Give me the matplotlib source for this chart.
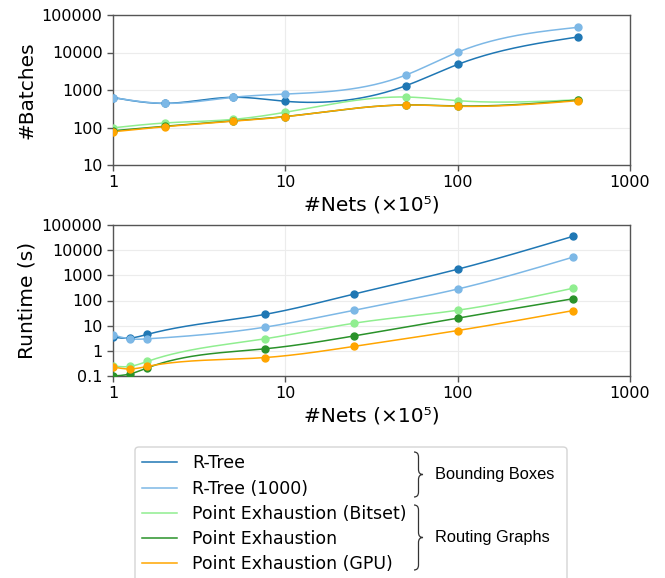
import numpy as np
import matplotlib
matplotlib.use("Agg")
import matplotlib.pyplot as plt
from matplotlib.lines import Line2D
from matplotlib.patches import FancyBboxPatch, PathPatch
from matplotlib.path import Path

# ---- data ----
labels = ["R-Tree", "R-Tree (1000)", "Point Exhaustion (Bitset)",
          "Point Exhaustion", "Point Exhaustion (GPU)"]
colors = ["#1f77b4", "#7db8e6", "#90ee90", "#2a922a", "#ffa500"]

# #Batches
nets_batches = [1, 2, 5, 10, 50, 100, 500]
batches_rtree = [630, 440, 640, 500, 1300, 4800, 26000]
batches_rtree1000 = [630, 440, 640, 780, 2500, 10200, 47000]
batches_bitset = [98, 132, 165, 255, 650, 520, 550]
batches_pe = [82, 108, 150, 196, 400, 375, 540]
batches_gpu = [77, 105, 147, 194, 398, 368, 520]

# Runtime (s)
nets_runtime = [1, 1.25, 1.58, 7.6, 25, 100, 470]
runtime_rtree = [3.5, 3.2, 4.5, 28, 180, 1750, 36000]
runtime_rtree1000 = [4.3, 3.0, 3.0, 8.7, 41, 285, 5350]
runtime_bitset = [0.25, 0.24, 0.38, 3.0, 12.5, 41, 310]
runtime_pe = [0.1, 0.12, 0.21, 1.2, 3.9, 20, 118]
runtime_gpu = [0.23, 0.19, 0.24, 0.54, 1.5, 6.4, 40]

x_ticks = [1, 10, 100, 1000]
x_ticklabels = ["1", "10", "100", "1000"]
batches_yticks = [10, 100, 1000, 10000, 100000]
batches_yticklabels = ["10", "100", "1000", "10000", "100000"]
runtime_yticks = [0.1, 1, 10, 100, 1000, 10000, 100000]
runtime_yticklabels = ["0.1", "1", "10", "100", "1000", "10000", "100000"]

groups = ["Bounding Boxes", "Routing Graphs"]


def smooth(x, y, n=300):
    # natural cubic spline through the points, in log-log space
    lx = np.log10(np.asarray(x, float))
    ly = np.log10(np.asarray(y, float))
    k = len(lx)
    h = np.diff(lx)
    A = np.zeros((k, k))
    b = np.zeros(k)
    A[0, 0] = A[-1, -1] = 1
    for i in range(1, k - 1):
        A[i, i - 1] = h[i - 1]
        A[i, i] = 2 * (h[i - 1] + h[i])
        A[i, i + 1] = h[i]
        b[i] = 6 * ((ly[i + 1] - ly[i]) / h[i] - (ly[i] - ly[i - 1]) / h[i - 1])
    M = np.linalg.solve(A, b)
    xs = np.linspace(lx[0], lx[-1], n)
    idx = np.clip(np.searchsorted(lx, xs) - 1, 0, k - 2)
    x0, x1 = lx[idx], lx[idx + 1]
    hh = x1 - x0
    a = (x1 - xs) / hh
    c = (xs - x0) / hh
    ys = (a * ly[idx] + c * ly[idx + 1]
          + ((a ** 3 - a) * M[idx] + (c ** 3 - c) * M[idx + 1]) * hh ** 2 / 6)
    return 10 ** xs, 10 ** ys


def draw_panel(ax, xv, series, yticks, yticklabels, ylabel):
    for yv, col in zip(series, colors):
        sx, sy = smooth(xv, yv)
        ax.plot(sx, sy, color=col, lw=1.1, zorder=3)
        ax.plot(xv, yv, "o", color=col, ms=5, zorder=4)
    ax.set_xscale("log")
    ax.set_yscale("log")
    ax.set_xlim(1, 1000)
    ax.set_ylim(yticks[0], yticks[-1])
    ax.set_xticks(x_ticks)
    ax.set_xticklabels(x_ticklabels)
    ax.set_yticks(yticks)
    ax.set_yticklabels(yticklabels)
    ax.minorticks_off()
    ax.tick_params(labelsize=11.5, colors="#555555", labelcolor="black",
                   length=4, width=1)
    ax.grid(True, color="#ececec", lw=0.8, zorder=0)
    for sp in ax.spines.values():
        sp.set_color("#555555")
        sp.set_linewidth(1.0)
    ax.set_xlabel("#Nets (\u00d710\u2075)", fontsize=14.5)
    ax.set_ylabel(ylabel, fontsize=14.5)


W, H = 665, 578
fig = plt.figure(figsize=(W / 100, H / 100), dpi=100)

ax1 = fig.add_axes([113 / W, 1 - 165 / H, 517 / W, 150 / H])
draw_panel(ax1, nets_batches,
           [batches_rtree, batches_rtree1000, batches_bitset, batches_pe, batches_gpu],
           batches_yticks, batches_yticklabels, "#Batches")

ax2 = fig.add_axes([113 / W, 1 - 376 / H, 517 / W, 151 / H])
draw_panel(ax2, nets_runtime,
           [runtime_rtree, runtime_rtree1000, runtime_bitset, runtime_pe, runtime_gpu],
           runtime_yticks, runtime_yticklabels, "Runtime (s)")

# legend box (runs off the bottom of the figure like the original)
box = FancyBboxPatch((135 / W, -0.05), (567 - 135) / W, (1 - 447 / H) + 0.05,
                     boxstyle="round,pad=0,rounding_size=0.006",
                     transform=fig.transFigure, fc="white", ec="#d4d4d4", lw=1)
fig.patches.append(box)

handles = [Line2D([], [], color=c, lw=1.1) for c in colors]
fig.legend(handles, labels, loc="upper left",
           bbox_to_anchor=(139 / W, 1 - 451 / H), frameon=False,
           fontsize=12.5, handlelength=2.0, handletextpad=0.85,
           labelspacing=0.41, borderpad=0.2, borderaxespad=0)


def brace(x0, ytop, ybot, w=9):
    ymid = (ytop + ybot) / 2
    xm = x0 + w * 0.5
    r = 5
    pts = [(x0, ytop), (xm, ytop), (xm, ytop + r),
           (xm, ymid - r), (xm, ymid), (x0 + w, ymid),
           (xm, ymid), (xm, ymid + r),
           (xm, ybot - r), (xm, ybot), (x0, ybot)]
    codes = [Path.MOVETO, Path.CURVE3, Path.CURVE3,
             Path.LINETO, Path.CURVE3, Path.CURVE3,
             Path.CURVE3, Path.CURVE3,
             Path.LINETO, Path.CURVE3, Path.CURVE3]
    pts = [(px / W, 1 - py / H) for px, py in pts]
    fig.patches.append(PathPatch(Path(pts, codes), transform=fig.transFigure,
                                 fc="none", ec="#333333", lw=0.9))
    return ymid


for (yt, yb), name in zip([(452, 497), (505, 570)], groups):
    ym = brace(414, yt, yb)
    fig.text(435 / W, 1 - ym / H, name, fontsize=11.8, va="center",
             family="Liberation Sans")

fig.savefig("out.png", dpi=100)
